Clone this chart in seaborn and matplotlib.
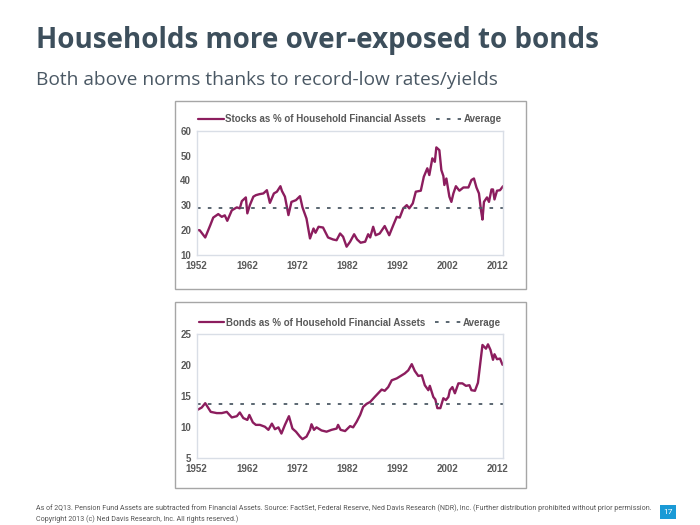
import pandas as pd
import seaborn as sns
import matplotlib.pyplot as plt
from matplotlib.patches import Rectangle
from matplotlib.lines import Line2D

# Stocks as % of household financial assets
stock_years = [1952.0, 1952.6, 1953.7, 1954.7, 1955.3, 1956.3, 1957.0, 1957.6, 1958.1, 1959.0,
               1960.0, 1960.6, 1961.0, 1961.8, 1962.1, 1962.6, 1963.3, 1963.8, 1964.5, 1965.3,
               1966.0, 1966.6, 1967.4, 1968.0, 1968.7, 1969.0, 1969.6, 1970.3, 1970.9, 1971.8,
               1972.6, 1973.1, 1973.9, 1974.6, 1975.3, 1975.7, 1976.3, 1977.2, 1978.2, 1979.2,
               1979.9, 1980.6, 1981.2, 1981.9, 1982.6, 1983.4, 1984.0, 1984.7, 1985.6, 1986.2,
               1986.6, 1987.2, 1987.7, 1988.5, 1989.5, 1990.4, 1991.2, 1991.9, 1992.5, 1993.2,
               1993.9, 1994.4, 1995.1, 1995.7, 1996.7, 1997.3, 1998.0, 1998.4, 1999.0, 1999.5,
               1999.8, 2000.4, 2000.8, 2001.2, 2001.4, 2001.8, 2002.4, 2002.8, 2003.2, 2003.7,
               2004.4, 2005.2, 2006.2, 2006.8, 2007.3, 2007.8, 2008.3, 2008.7, 2009.0, 2009.3,
               2009.9, 2010.3, 2010.8, 2011.1, 2011.4, 2011.9, 2012.5, 2013.1]
stock_values = [20.1, 20.0, 17.1, 22.0, 25.1, 26.5, 25.4, 26.0, 23.8, 28.0,
                29.2, 28.8, 31.7, 33.2, 26.8, 30.1, 33.5, 34.1, 34.5, 34.8,
                36.1, 31.0, 34.8, 35.5, 37.7, 35.8, 33.5, 26.1, 31.4, 32.1,
                33.7, 29.2, 24.7, 16.7, 20.7, 19.0, 21.4, 21.1, 17.1, 16.3,
                16.0, 18.7, 17.4, 13.4, 15.4, 18.4, 16.3, 15.0, 15.4, 18.4,
                17.1, 21.4, 18.0, 18.7, 21.7, 18.0, 22.0, 25.4, 25.1, 28.8,
                30.1, 28.8, 30.8, 35.5, 35.9, 41.5, 44.9, 42.2, 48.9, 47.5,
                53.3, 52.2, 44.2, 41.8, 38.2, 40.8, 33.5, 31.4, 34.8, 37.7,
                35.9, 37.2, 37.2, 40.2, 40.8, 37.2, 34.8, 28.1, 24.3, 31.4,
                33.2, 31.4, 36.4, 36.4, 32.4, 35.9, 36.1, 37.7]
stock_avg = 28.8

# Bonds as % of household financial assets
bond_years = [1952.1, 1953.0, 1953.7, 1954.1, 1954.8, 1956.0, 1957.0, 1958.0, 1959.0, 1960.0,
              1960.6, 1961.3, 1962.1, 1962.5, 1963.2, 1963.8, 1964.6, 1965.6, 1966.3, 1967.0,
              1967.6, 1968.3, 1968.9, 1969.6, 1970.4, 1971.1, 1971.8, 1972.6, 1973.1, 1973.9,
              1974.6, 1974.9, 1975.4, 1975.9, 1976.9, 1977.9, 1978.9, 1979.9, 1980.2, 1980.7,
              1981.6, 1982.6, 1983.2, 1983.9, 1984.6, 1985.2, 1985.9, 1986.6, 1987.5, 1988.2,
              1988.9, 1989.5, 1990.2, 1990.9, 1991.9, 1992.9, 1993.5, 1994.2, 1994.9, 1995.5,
              1996.2, 1996.9, 1997.5, 1998.2, 1998.5, 1999.2, 1999.6, 2000.0, 2000.6, 2001.2,
              2001.7, 2002.2, 2002.5, 2003.0, 2003.5, 2004.2, 2005.0, 2005.7, 2006.4, 2006.8,
              2007.5, 2008.1, 2008.6, 2009.0, 2009.7, 2010.1, 2010.6, 2011.1, 2011.4, 2011.9,
              2012.5, 2013.0]
bond_values = [12.8, 13.2, 13.9, 13.4, 12.5, 12.3, 12.3, 12.5, 11.6, 11.8,
               12.4, 11.5, 11.2, 12.0, 10.8, 10.4, 10.4, 10.1, 9.6, 10.6,
               9.7, 10.0, 9.0, 10.4, 11.8, 9.8, 9.3, 8.5, 8.1, 8.5,
               9.6, 10.5, 9.6, 10.0, 9.5, 9.3, 9.6, 9.8, 10.4, 9.6,
               9.4, 10.2, 10.0, 10.9, 12.0, 13.3, 13.8, 14.1, 14.9, 15.5,
               16.1, 15.9, 16.5, 17.6, 17.9, 18.4, 18.7, 19.2, 20.2, 19.1,
               18.3, 18.4, 16.8, 16.0, 16.7, 14.9, 14.5, 13.1, 13.1, 14.7,
               14.4, 14.9, 16.0, 16.5, 15.5, 17.1, 17.1, 16.7, 16.8, 16.0,
               15.9, 17.2, 20.6, 23.3, 22.7, 23.4, 22.5, 20.9, 21.8, 21.0,
               21.1, 20.1]
bond_avg = 13.7

x_ticks = [1952, 1962, 1972, 1982, 1992, 2002, 2012]

sns.set_theme(style="white")
plt.rcParams["font.family"] = ["Liberation Sans", "DejaVu Sans"]

line_color = "#8c1d5e"
avg_color = "#4d5b66"
tick_color = "#595959"

fig = plt.figure(figsize=(7, 5.25), dpi=100)

# panel frames
for y0, h in [(0.4495, 0.358), (0.0705, 0.354)]:
    fig.add_artist(Rectangle((0.25, y0), 0.5014, h, transform=fig.transFigure,
                             fill=False, edgecolor="#a6a6a6", linewidth=1))

panels = [
    ([0.281, 0.514, 0.4376, 0.237], stock_years, stock_values, stock_avg,
     (10, 60), range(10, 61, 10), "Stocks as % of Household Financial Assets"),
    ([0.281, 0.127, 0.4376, 0.236], bond_years, bond_values, bond_avg,
     (5, 25), range(5, 26, 5), "Bonds as % of Household Financial Assets"),
]

for rect, xs, ys, avg, ylim, yticks, label in panels:
    ax = fig.add_axes(rect)
    df = pd.DataFrame({"year": xs, "value": ys})
    sns.lineplot(data=df, x="year", y="value", ax=ax, color=line_color, linewidth=1.7)
    ax.axhline(avg, color=avg_color, linestyle=(0, (2, 4)), linewidth=1.3)
    ax.set_xlim(1952, 2013.1)
    ax.set_ylim(*ylim)
    ax.set_xticks(x_ticks)
    ax.set_yticks(list(yticks))
    ax.set_xlabel("")
    ax.set_ylabel("")
    ax.tick_params(length=0, labelsize=7, labelcolor=tick_color, pad=4)
    for t in ax.get_xticklabels() + ax.get_yticklabels():
        t.set_fontweight("bold")
    for s in ax.spines.values():
        s.set_color("#d9dee6")
        s.set_linewidth(1)
    handles = [Line2D([], [], color=line_color, linewidth=1.6),
               Line2D([], [], color=avg_color, linestyle=(0, (2, 4)), linewidth=1.3)]
    leg = ax.legend(handles, [label, "Average"], ncol=2, loc="lower center",
                    bbox_to_anchor=(0.5, 1.0), frameon=False, fontsize=7,
                    handlelength=2.6, handletextpad=0.2, columnspacing=1.0,
                    borderaxespad=0.3)
    for t in leg.get_texts():
        t.set_color(tick_color)
        t.set_fontweight("bold")

fig.text(0.052, 0.9086, "Households more over-exposed to bonds", fontsize=20, va="baseline",
         fontweight="bold", color="#3d4f5c", family=["Open Sans", "DejaVu Sans"])
fig.text(0.052, 0.838, "Both above norms thanks to record-low rates/yields", fontsize=13.8,
         va="baseline", color="#4a5864", family=["Open Sans", "DejaVu Sans"])

fig.text(0.051, 0.028, "As of 2Q13. Pension Fund Assets are subtracted from Financial Assets. "
         "Source: FactSet, Federal Reserve, Ned Davis Research (NDR), Inc. "
         "(Further distribution prohibited without prior permission.",
         fontsize=5.1, color="#555555", family=["Roboto", "DejaVu Sans"])
fig.text(0.051, 0.008, "Copyright 2013 (c) Ned Davis Research, Inc. All rights reserved.)",
         fontsize=5.1, color="#555555", family=["Roboto", "DejaVu Sans"])

fig.add_artist(Rectangle((0.943, 0.0114), 0.023, 0.027, transform=fig.transFigure,
                         facecolor="#1a9ad6", edgecolor="none"))
fig.text(0.9545, 0.025, "17", fontsize=6, color="white", ha="center", va="center",
         family=["Roboto", "DejaVu Sans"])

fig.savefig("out.png", dpi=100)
